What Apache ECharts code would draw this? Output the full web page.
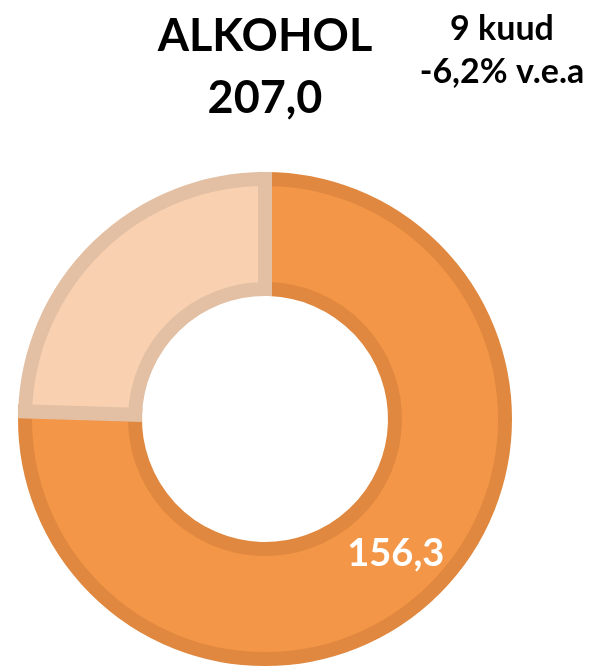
<!DOCTYPE html>
<html>
<head>
<meta charset="utf-8">
<script src="https://cdn.jsdelivr.net/npm/echarts@6/dist/echarts.min.js"></script>
<style>
  html, body { margin: 0; padding: 0; background: #fff; }
  #chart { width: 589px; height: 668px; }
</style>
</head>
<body>
<div id="chart"></div>
<script>
const names = ['Alkohol', 'Muu'];
const values = [156.3, 50.7];
const fills = ['#F39647', '#F9D1B1'];
const borders = ['#E0883F', '#E3C0A3'];
const periodLabel = '9 kuud';
const changeLabel = '-6,2% v.e.a';

const total = values.reduce((a, b) => a + b, 0);
const fmt = v => v.toFixed(1).replace('.', ',');

const chart = echarts.init(document.getElementById('chart'));
const font = 'Lato, "Open Sans", sans-serif';

chart.setOption({
  title: [
    {
      text: 'ALKOHOL\n' + fmt(total),
      left: 260,
      top: 0,
      textAlign: 'center',
      textStyle: {
        fontFamily: font,
        fontWeight: 'bold',
        fontSize: 45,
        lineHeight: 62,
        color: '#000'
      }
    },
    {
      text: periodLabel + '\n' + changeLabel,
      left: 497,
      top: 3,
      textAlign: 'center',
      textStyle: {
        fontFamily: font,
        fontWeight: 'bold',
        fontSize: 34,
        lineHeight: 43,
        color: '#000'
      }
    }
  ],
  series: [{
    type: 'pie',
    center: [265, 419],
    radius: [130, 240],
    startAngle: 90,
    clockwise: true,
    silent: true,
    label: {
      show: true,
      position: 'inside',
      color: '#fff',
      fontFamily: font,
      fontWeight: 'bold',
      fontSize: 38,
      formatter: p => p.dataIndex === 0 ? fmt(p.value) : ''
    },
    labelLine: { show: false },
    data: values.map((v, i) => ({
      name: names[i],
      value: v,
      itemStyle: {
        color: fills[i],
        borderColor: borders[i],
        borderWidth: 14,
        borderJoin: 'miter'
      }
    }))
  }]
});
</script>
</body>
</html>
